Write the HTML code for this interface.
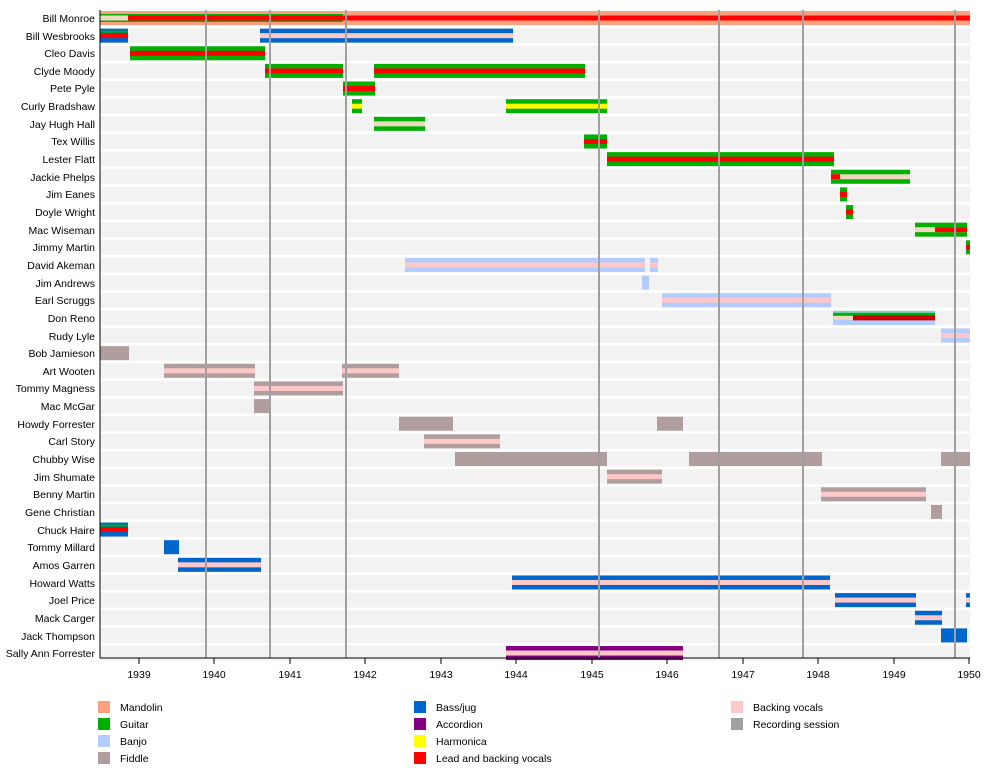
<!DOCTYPE html>
<html><head><meta charset="utf-8"><style>
body{margin:0;background:#fff;}
svg{display:block;font-family:"Liberation Sans",sans-serif;}
</style></head><body>
<svg id="s" width="1000" height="768" xmlns="http://www.w3.org/2000/svg">
<g id="bg"></g><g id="bars"></g><g id="sess"></g>
<g font-size="10.5" text-anchor="end" fill="#000">
<text x="95" y="22">Bill Monroe</text>
<text x="95" y="40">Bill Wesbrooks</text>
<text x="95" y="57">Cleo Davis</text>
<text x="95" y="75">Clyde Moody</text>
<text x="95" y="92">Pete Pyle</text>
<text x="95" y="110">Curly Bradshaw</text>
<text x="95" y="128">Jay Hugh Hall</text>
<text x="95" y="145">Tex Willis</text>
<text x="95" y="163">Lester Flatt</text>
<text x="95" y="181">Jackie Phelps</text>
<text x="95" y="198">Jim Eanes</text>
<text x="95" y="216">Doyle Wright</text>
<text x="95" y="234">Mac Wiseman</text>
<text x="95" y="251">Jimmy Martin</text>
<text x="95" y="269">David Akeman</text>
<text x="95" y="287">Jim Andrews</text>
<text x="95" y="304">Earl Scruggs</text>
<text x="95" y="322">Don Reno</text>
<text x="95" y="340">Rudy Lyle</text>
<text x="95" y="357">Bob Jamieson</text>
<text x="95" y="375">Art Wooten</text>
<text x="95" y="392">Tommy Magness</text>
<text x="95" y="410">Mac McGar</text>
<text x="95" y="428">Howdy Forrester</text>
<text x="95" y="445">Carl Story</text>
<text x="95" y="463">Chubby Wise</text>
<text x="95" y="481">Jim Shumate</text>
<text x="95" y="498">Benny Martin</text>
<text x="95" y="516">Gene Christian</text>
<text x="95" y="534">Chuck Haire</text>
<text x="95" y="551">Tommy Millard</text>
<text x="95" y="569">Amos Garren</text>
<text x="95" y="587">Howard Watts</text>
<text x="95" y="604">Joel Price</text>
<text x="95" y="622">Mack Carger</text>
<text x="95" y="640">Jack Thompson</text>
<text x="95" y="657">Sally Ann Forrester</text>
</g>
<line x1="100" y1="10" x2="100" y2="658" stroke="#000"/>
<line x1="100" y1="658" x2="970" y2="658" stroke="#000"/>
<g id="ticks" stroke="#000"></g>
<g font-size="10.5" text-anchor="middle">
<text x="139" y="678">1939</text><text x="214" y="678">1940</text><text x="290" y="678">1941</text>
<text x="365" y="678">1942</text><text x="441" y="678">1943</text><text x="516" y="678">1944</text>
<text x="592" y="678">1945</text><text x="667" y="678">1946</text><text x="743" y="678">1947</text>
<text x="818" y="678">1948</text><text x="894" y="678">1949</text><text x="969" y="678">1950</text>
</g>
<g font-size="10.5">
<rect x="98" y="701" width="12" height="12" fill="#ff9f80"/><text x="120" y="711">Mandolin</text>
<rect x="98" y="718" width="12" height="12" fill="#00b000"/><text x="120" y="728">Guitar</text>
<rect x="98" y="735" width="12" height="12" fill="#b3ccff"/><text x="120" y="745">Banjo</text>
<rect x="98" y="752" width="12" height="12" fill="#b09e9e"/><text x="120" y="762">Fiddle</text>
<rect x="414" y="701" width="12" height="12" fill="#0066cc"/><text x="436" y="711">Bass/jug</text>
<rect x="414" y="718" width="12" height="12" fill="#800080"/><text x="436" y="728">Accordion</text>
<rect x="414" y="735" width="12" height="12" fill="#ffff00"/><text x="436" y="745">Harmonica</text>
<rect x="414" y="752" width="12" height="12" fill="#ff0000"/><text x="436" y="762">Lead and backing vocals</text>
<rect x="731" y="701" width="12" height="12" fill="#ffc8c8"/><text x="753" y="711">Backing vocals</text>
<rect x="731" y="718" width="12" height="12" fill="#a0a0a0"/><text x="753" y="728">Recording session</text>
</g>
</svg>
<script>
var NS="http://www.w3.org/2000/svg";
function R(g,x1,x2,y,h,c){var r=document.createElementNS(NS,"rect");r.setAttribute("x",x1);r.setAttribute("width",x2-x1);r.setAttribute("y",y);r.setAttribute("height",h);r.setAttribute("fill",c);document.getElementById(g).appendChild(r);}
function yc(i){return 18+i*17.64;}
for(var i=0;i<37;i++){R("bg",100,970,yc(i)-7.5,15,"#f2f2f2");}
var M="#ff9f80",G="#00b000",B="#b3ccff",F="#b09e9e",J="#0066cc",A="#800080",Y="#ffff00",V="#ff0000",P="#ffc8c8",L="#f0d8c0";
// [row,x1,x2,color,center]
var d=[
[1,100,128,J,V],[1,260,513,J,P],[2,130,265,G,V],[3,265,343,G,V],[3,374,585,G,V],[4,343,375,G,V],
[5,352,362,G,Y],[5,506,607,G,Y],[6,374,425,G,L],[7,584,607,G,V],[8,607,834,G,V],[9,831,910,G,L],
[10,840,847,G,V],[11,846,853,G,V],[12,915,967,G,L],[13,966,970,G,V],[14,405,645,B,P],[14,650,658,B,P],[15,642,649,B,null],
[16,662,831,B,P],[18,941,970,B,P],[19,100,129,F,null],[20,164,255,F,P],[20,342,399,F,P],[21,254,343,F,P],
[22,254,271,F,null],[23,399,453,F,null],[23,657,683,F,null],[24,424,500,F,P],[25,455,607,F,null],[25,689,822,F,null],
[25,941,970,F,null],[26,607,662,F,P],[27,821,926,F,P],[28,931,942,F,null],[29,100,128,J,V],[30,164,179,J,null],
[31,178,261,J,P],[32,512,830,J,P],[33,835,916,J,P],[33,966,970,J,P],[34,915,942,J,P],[35,941,967,J,null],[36,506,683,A,P]];
d.forEach(function(b){var y=yc(b[0]);R("bars",b[1],b[2],y-7,14,b[3]);if(b[4]){R("bars",b[1],b[2],y-2.5,5,b[4]);}});
// Bill Monroe
var y0=yc(0);R("bars",100,970,y0-7,14,M);R("bars",100,343,y0-4,8,G);R("bars",100,128,y0-2.5,5,L);R("bars",128,970,y0-2.5,5,V);
// extras
R("bars",831,840,yc(9)-2.5,5,V);R("bars",935,967,yc(12)-2.5,5,V);
var yr=yc(17);R("bars",833,935,yr-7,14,"#7fd0c0");R("bars",833,935,yr+2,5,B);R("bars",833,935,yr-5,3,G);R("bars",833,935,yr-2,4,L);R("bars",853,935,yr-2.5,5,"#cc0000");
R("bars",100,128,yc(29)-5,2,G);R("bars",100,128,yc(1)-5,2,G);
[206,270,346,599,719,803,955].forEach(function(x){R("sess",x-1,x+1,10,648,"#a0a0a0");});
[139,214,290,365,441,516,592,667,743,818,894,969].forEach(function(x){var l=document.createElementNS(NS,"line");l.setAttribute("x1",x);l.setAttribute("x2",x);l.setAttribute("y1",658);l.setAttribute("y2",664);document.getElementById("ticks").appendChild(l);});
</script>
</body></html>
